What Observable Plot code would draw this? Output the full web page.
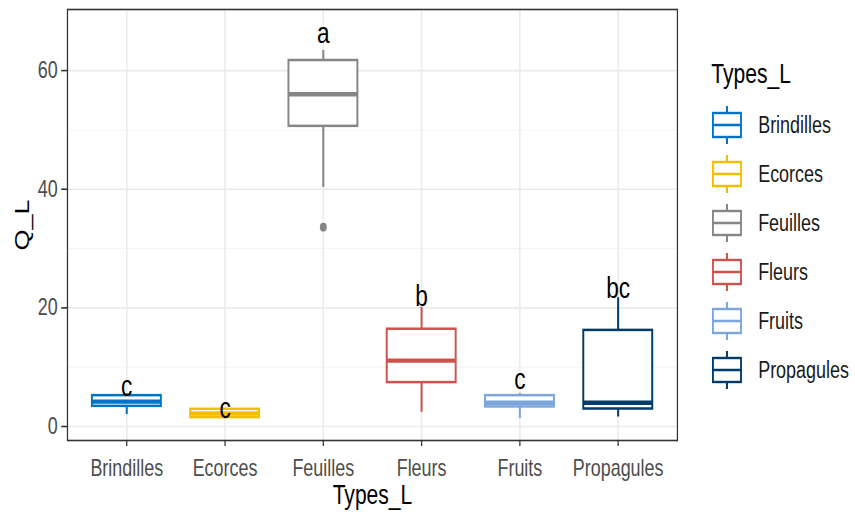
<!DOCTYPE html>
<html>
<head>
<meta charset="utf-8">
<script src="https://cdn.jsdelivr.net/npm/d3@7"></script>
<script src="https://cdn.jsdelivr.net/npm/@observablehq/plot@0.6"></script>
<style>
  html, body { margin: 0; padding: 0; background: #fff; overflow: hidden; }
  #wrap { position: relative; width: 1096px; height: 522px; transform: scaleX(0.78); transform-origin: 0 0; font-family: "Liberation Sans", Arial, sans-serif; }
  #wrap svg { font-family: "Liberation Sans", Arial, sans-serif; display: block; }
  g[aria-label="x-axis label"] text, g[aria-label="y-axis label"] text { fill: #000; font-size: 27px; }
  #legend { position: absolute; left: 912px; top: 59px; }
  #legend .title { font-size: 27px; color: #000; height: 41.5px; line-height: 30px; }
  #legend .item { display: flex; align-items: center; height: 49px; font-size: 23px; color: #1a1a1a; }
  #legend .item svg { margin-right: 20px; display: block; }
</style>
</head>
<body>
<div id="wrap"></div>
<script>
const types = ["Brindilles", "Ecorces", "Feuilles", "Fleurs", "Fruits", "Propagules"];
const colors = ["#0073C2", "#EFC000", "#868686", "#CD534C", "#7AA6DC", "#003C67"];
const whiskerLow  = [2.0, 1.2, 40.3, 2.4, 1.35, 1.6];
const q1          = [3.4, 1.5, 50.6, 7.4, 3.3, 2.95];
const median      = [4.2, 2.2, 56.0, 11.1, 4.0, 4.0];
const q3          = [5.2, 2.9, 61.7, 16.4, 5.2, 16.2];
const whiskerHigh = [5.5, 3.0, 63.4, 20.1, 5.6, 21.7];
const outlierTypes = ["Feuilles"];
const outlierValues = [33.6];
const letters = ["c", "c", "a", "b", "c", "bc"];
const letterY = [6.7, 3.0, 66.3, 21.8, 7.9, 23.3];
const yTicks = [0, 20, 40, 60];
const yMinor = [10, 30, 50];

const boxes = types.map((t, i) => ({type: t, lo: whiskerLow[i], q1: q1[i], med: median[i], q3: q3[i], hi: whiskerHigh[i], letter: letters[i], ly: letterY[i]}));
const outliers = outlierTypes.map((t, i) => ({type: t, value: outlierValues[i]}));

const inset = 18.8;
const chart = Plot.plot({
  width: 1096,
  height: 522,
  marginLeft: 86,
  marginRight: 228,
  marginTop: 9,
  marginBottom: 82,
  style: {fontSize: "23px", color: "#4d4d4d", background: "#fff"},
  x: {domain: types, paddingInner: 0, paddingOuter: 0.1},
  y: {domain: [-2.36, 70.3]},
  color: {domain: types, range: colors},
  marks: [
    Plot.gridY(yMinor, {stroke: "#f0f0f0", strokeOpacity: 1, strokeWidth: 0.9}),
    Plot.gridY(yTicks, {stroke: "#ebebeb", strokeOpacity: 1, strokeWidth: 1.6}),
    Plot.gridX(types, {stroke: "#ebebeb", strokeOpacity: 1, strokeWidth: 2}),
    Plot.ruleX(boxes, {x: "type", y1: "q3", y2: "hi", stroke: "type", strokeWidth: 2.6}),
    Plot.ruleX(boxes, {x: "type", y1: "lo", y2: "q1", stroke: "type", strokeWidth: 2.6}),
    Plot.barY(boxes, {x: "type", y1: "q1", y2: "q3", fill: "#fff", stroke: "type", strokeWidth: 2.5, insetLeft: inset, insetRight: inset}),
    Plot.tickY(boxes, {x: "type", y: "med", stroke: "type", strokeWidth: 4.4, insetLeft: inset, insetRight: inset}),
    Plot.dot(outliers, {x: "type", y: "value", fill: "#868686", r: 4.4}),
    Plot.text(boxes, {x: "type", y: "ly", text: "letter", fill: "#000", fontSize: 29, lineAnchor: "middle"}),
    Plot.frame({stroke: "#333", strokeWidth: 1.6}),
    Plot.axisY(yTicks, {tickSize: 7.5, tickPadding: 5, stroke: "#333", strokeWidth: 1.6, label: "Q_L", labelArrow: "none", labelAnchor: "center", labelOffset: 69, fill: "#4d4d4d"}),
    Plot.axisX({tickSize: 6, tickPadding: 13.5, stroke: "#333", strokeWidth: 1.6, label: "Types_L", labelArrow: "none", labelAnchor: "center", labelOffset: 63, fill: "#4d4d4d"})
  ]
});
const wrap = document.getElementById("wrap");
wrap.appendChild(chart);

const legend = document.createElement("div");
legend.id = "legend";
const title = document.createElement("div");
title.className = "title";
title.textContent = "Types_L";
legend.appendChild(title);
types.forEach((t, i) => {
  const item = document.createElement("div");
  item.className = "item";
  const c = colors[i];
  item.innerHTML = `<svg width="40" height="40" viewBox="0 0 40 40">
    <line x1="20" y1="1" x2="20" y2="8" stroke="${c}" stroke-width="2.6"/>
    <line x1="20" y1="32" x2="20" y2="39" stroke="${c}" stroke-width="2.6"/>
    <rect x="2" y="8" width="36" height="24" fill="#fff" stroke="${c}" stroke-width="2.4"/>
    <line x1="2" y1="20" x2="38" y2="20" stroke="${c}" stroke-width="2.4"/>
  </svg><span>${t}</span>`;
  legend.appendChild(item);
});
wrap.appendChild(legend);
</script>
</body>
</html>
